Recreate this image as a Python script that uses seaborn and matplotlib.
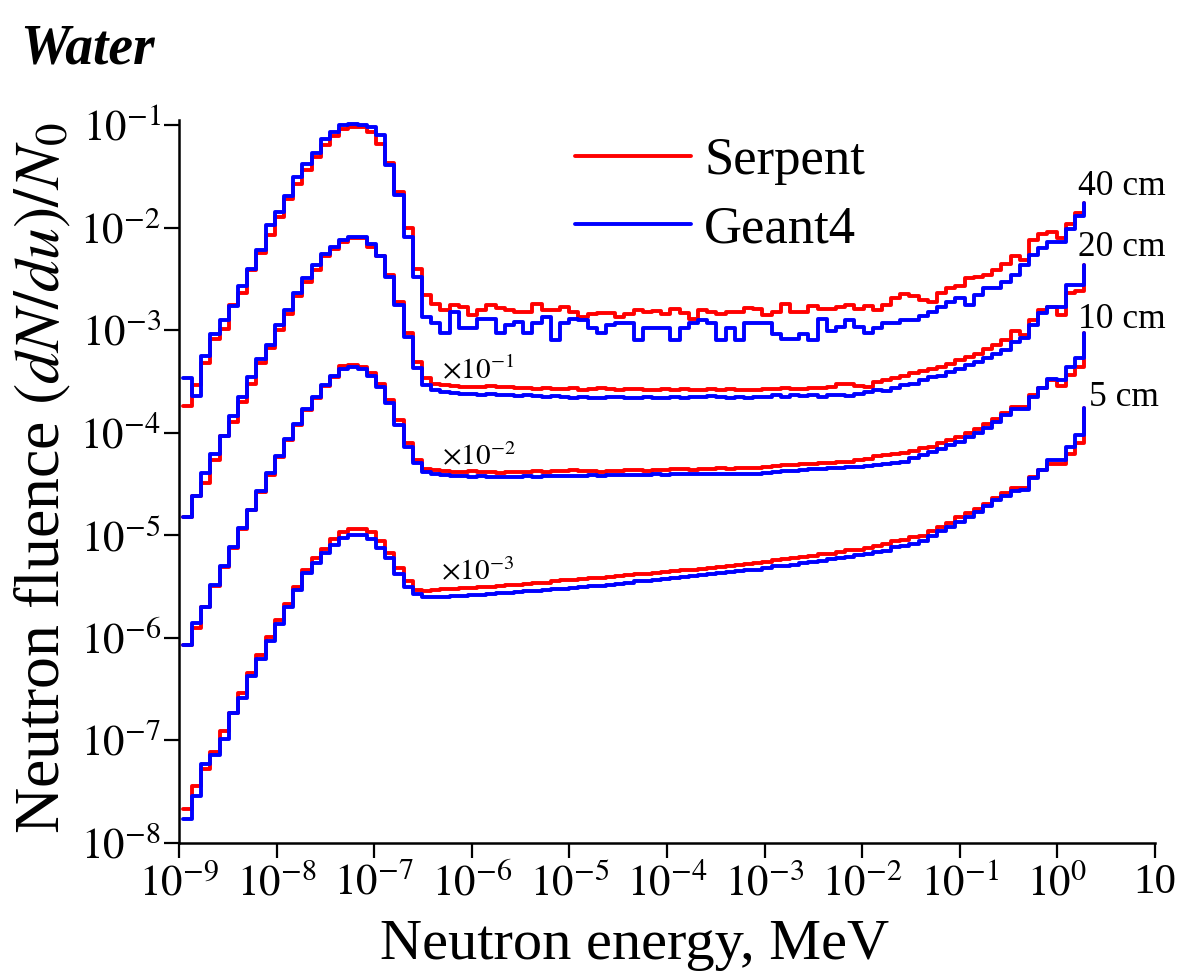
import numpy as np
import pandas as pd
import matplotlib
matplotlib.use("Agg")
import matplotlib.pyplot as plt
import seaborn as sns
from matplotlib.lines import Line2D
from matplotlib.ticker import FixedLocator, FixedFormatter, NullLocator

# ---------------- data (log10 of fluence per lethargy bin; last entry = end point) -------------
energy_edges = np.logspace(-8.96, 0.275, 99)  # MeV, 98 lethargy bins

serpent_40cm = [
    -3.74, -3.53, -3.32, -3.09, -2.99, -2.75, -2.64, -2.41, -2.25, -2.07, -1.90, -1.72, -1.57, -1.44,
    -1.31, -1.19, -1.11, -1.04, -1.02, -1.02, -1.07, -1.18, -1.37, -1.65, -2.00, -2.40, -2.66,
    -2.74, -2.80, -2.75, -2.77, -2.85, -2.80, -2.75, -2.78, -2.80, -2.82, -2.82, -2.74, -2.80, -2.80,
    -2.77, -2.82, -2.87, -2.84, -2.83, -2.83, -2.87, -2.84, -2.80, -2.82, -2.81, -2.84, -2.79, -2.83,
    -2.89, -2.80, -2.82, -2.84, -2.82, -2.82,
    -2.78, -2.79, -2.85, -2.82, -2.74, -2.82, -2.82, -2.76, -2.79, -2.79, -2.77, -2.75, -2.79, -2.76,
    -2.80, -2.75, -2.69, -2.65, -2.67, -2.71, -2.72, -2.64, -2.59, -2.57, -2.49, -2.48, -2.46, -2.41,
    -2.35, -2.28, -2.32, -2.12, -2.06, -2.04, -2.10, -1.96, -1.86,
    -1.76]
geant4_40cm = [
    -3.47, -3.64, -3.25, -3.04, -2.90, -2.76, -2.57, -2.40, -2.22, -1.97, -1.85, -1.69, -1.51, -1.38,
    -1.27, -1.14, -1.065, -1.003, -0.99, -1.00, -1.02, -1.10, -1.39, -1.68, -2.09, -2.48,
    -2.87, -2.93, -3.03, -2.82, -2.98, -2.98, -2.89, -2.89, -3.03, -2.95, -2.92, -3.03, -2.93, -2.87,
    -3.10, -2.93, -2.89, -2.90, -2.98, -3.03, -2.95, -2.93, -2.93, -3.10, -2.98, -2.98, -2.98, -3.10,
    -2.98, -2.93, -2.90, -2.93, -3.10, -2.98, -3.10, -2.93,
    -2.93, -2.93, -3.04, -3.09, -3.09, -3.04, -3.10, -2.89, -3.01, -2.97, -2.90, -2.97, -3.03, -2.98,
    -2.93, -2.93, -2.90, -2.90, -2.86, -2.82, -2.77, -2.72, -2.69, -2.75, -2.66, -2.59, -2.59, -2.53,
    -2.46, -2.36, -2.27, -2.20, -2.14, -2.14, -2.01, -1.89,
    -1.76]

serpent_20cm = [
    -4.82, -4.62, -4.49, -4.27, -4.03, -3.89, -3.70, -3.52, -3.32,
    -3.17, -3.00, -2.84, -2.67, -2.53, -2.41, -2.28, -2.21, -2.14, -2.10, -2.10, -2.19, -2.28, -2.46,
    -2.72, -3.03,
    -3.31, -3.47, -3.52, -3.53,
    -3.54, -3.55, -3.55, -3.55, -3.54, -3.55, -3.55, -3.56, -3.56, -3.57, -3.56, -3.57, -3.57, -3.56,
    -3.58, -3.57, -3.56, -3.57, -3.58, -3.57, -3.57, -3.58, -3.58, -3.57, -3.58, -3.57, -3.58, -3.58,
    -3.57, -3.58, -3.57, -3.58,
    -3.58, -3.58, -3.57, -3.57, -3.56, -3.57, -3.57, -3.56, -3.56, -3.55, -3.52, -3.52, -3.54, -3.55,
    -3.50, -3.49, -3.47, -3.45, -3.42, -3.40, -3.38, -3.36, -3.33, -3.29, -3.26, -3.23, -3.18, -3.14,
    -3.10, -3.01, -3.05,
    -2.90, -2.80, -2.77, -2.85, -2.64, -2.62,
    -2.36]
geant4_20cm = [
    -4.82, -4.62, -4.39, -4.21, -4.03, -3.84, -3.65, -3.46, -3.28,
    -3.14, -2.95, -2.80, -2.64, -2.49, -2.36, -2.26, -2.19, -2.12, -2.09, -2.09, -2.16, -2.28, -2.48,
    -2.75, -3.07,
    -3.37, -3.53, -3.58, -3.60,
    -3.61, -3.62, -3.62, -3.63, -3.62, -3.63, -3.63, -3.64, -3.63, -3.64, -3.65, -3.64, -3.65, -3.66,
    -3.65, -3.66, -3.66, -3.65, -3.65, -3.66, -3.66, -3.65, -3.66, -3.66, -3.65, -3.66, -3.65, -3.65,
    -3.64, -3.65, -3.66, -3.65,
    -3.66, -3.65, -3.65, -3.63, -3.65, -3.63, -3.64, -3.63, -3.65, -3.63, -3.63, -3.64, -3.62, -3.60,
    -3.58, -3.59, -3.56, -3.53, -3.52, -3.49, -3.46, -3.45, -3.41, -3.38, -3.34, -3.31, -3.27, -3.23,
    -3.19, -3.11, -3.08,
    -2.95, -2.83, -2.77, -2.77, -2.56, -2.56,
    -2.36]

serpent_10cm = [
    -6.07, -5.90, -5.70, -5.49, -5.31, -5.12, -4.94, -4.75, -4.58, -4.41, -4.24, -4.07, -3.92, -3.78,
    -3.66, -3.54, -3.46, -3.35, -3.34, -3.36, -3.42, -3.52, -3.68, -3.88, -4.10, -4.27, -4.35,
    -4.36, -4.37,
    -4.38, -4.38, -4.37, -4.38, -4.38, -4.39, -4.38, -4.38, -4.38, -4.37, -4.38, -4.37, -4.37, -4.36,
    -4.37, -4.37, -4.38, -4.37, -4.37, -4.36, -4.36, -4.37, -4.36, -4.36, -4.35, -4.35, -4.36, -4.35,
    -4.35, -4.34, -4.35, -4.34,
    -4.34, -4.34, -4.33, -4.32, -4.31, -4.31, -4.30, -4.30, -4.29, -4.29, -4.28, -4.28, -4.27, -4.26,
    -4.23, -4.22, -4.21, -4.20, -4.18, -4.15, -4.14, -4.10, -4.07, -4.04, -4.00, -3.96, -3.91, -3.87,
    -3.81, -3.75, -3.75, -3.63,
    -3.56, -3.49, -3.54, -3.44, -3.36,
    -3.03]
geant4_10cm = [
    -6.07, -5.85, -5.70, -5.48, -5.30, -5.11, -4.93, -4.75, -4.57, -4.39, -4.23, -4.06, -3.91, -3.77,
    -3.65, -3.53, -3.45, -3.38, -3.36, -3.38, -3.45, -3.55, -3.71, -3.92, -4.14, -4.29, -4.38,
    -4.40, -4.41,
    -4.42, -4.42, -4.43, -4.42, -4.43, -4.43, -4.43, -4.43, -4.42, -4.43, -4.42, -4.42, -4.42, -4.42,
    -4.42, -4.41, -4.42, -4.41, -4.41, -4.41, -4.41, -4.41, -4.40, -4.41, -4.40, -4.40, -4.40, -4.40,
    -4.40, -4.40, -4.40, -4.40,
    -4.40, -4.40, -4.39, -4.38, -4.37, -4.37, -4.36, -4.35, -4.35, -4.34, -4.34, -4.33, -4.33, -4.32,
    -4.31, -4.30, -4.29, -4.28,
    -4.25, -4.22, -4.19, -4.16, -4.12, -4.09, -4.04, -4.00, -3.95, -3.89, -3.83, -3.77, -3.77, -3.65,
    -3.56, -3.48, -3.49, -3.36, -3.27,
    -3.03]

serpent_5cm = [
    -7.67, -7.44, -7.28, -7.11, -6.91, -6.73, -6.54, -6.34, -6.17, -5.99, -5.83, -5.67,
    -5.50, -5.34, -5.22, -5.13, -5.04, -4.97, -4.94, -4.94, -4.97, -5.06, -5.17, -5.32, -5.45, -5.53,
    -5.54, -5.53,
    -5.52, -5.52, -5.51, -5.51, -5.50, -5.50, -5.49, -5.48, -5.48, -5.47, -5.46, -5.46, -5.45, -5.44,
    -5.44, -5.43, -5.42, -5.42, -5.41, -5.40, -5.39, -5.38, -5.38, -5.37, -5.36, -5.35, -5.34, -5.34,
    -5.33, -5.32, -5.31, -5.30, -5.29,
    -5.28, -5.27, -5.26, -5.24, -5.23, -5.22, -5.21, -5.20, -5.18, -5.18, -5.16, -5.14, -5.14, -5.12,
    -5.10, -5.08, -5.06, -5.05, -5.02, -5.01, -4.96, -4.92, -4.88, -4.82, -4.78, -4.74, -4.69, -4.64,
    -4.59, -4.54, -4.54, -4.43, -4.36, -4.30, -4.30, -4.21, -4.10,
    -3.76]
geant4_5cm = [
    -7.77, -7.54, -7.23, -7.14, -6.99, -6.73, -6.59, -6.37, -6.21, -6.03, -5.86, -5.70,
    -5.53, -5.37, -5.27, -5.17, -5.09, -5.03, -5.00, -5.00, -5.04, -5.12, -5.22, -5.38, -5.50, -5.57,
    -5.60, -5.60,
    -5.60, -5.59, -5.59, -5.58, -5.58, -5.57, -5.56, -5.56, -5.55, -5.54, -5.54, -5.53, -5.52, -5.52,
    -5.51, -5.50, -5.49, -5.49, -5.48, -5.47, -5.46, -5.45, -5.45, -5.44, -5.43, -5.42, -5.41, -5.40,
    -5.39, -5.38, -5.37, -5.36, -5.35,
    -5.34, -5.34, -5.32, -5.30, -5.30, -5.29, -5.27, -5.26, -5.25, -5.23, -5.22, -5.21, -5.19, -5.18,
    -5.16, -5.15, -5.11, -5.10, -5.08, -5.06, -5.01, -4.96, -4.92, -4.87, -4.82, -4.77, -4.71, -4.66,
    -4.62, -4.57, -4.56, -4.44, -4.36, -4.27, -4.27, -4.14, -4.02,
    -3.76]

codes = ["Serpent", "Geant4"]
depths = ["40 cm", "20 cm", "10 cm", "5 cm"]
scale_labels = [r"$\times10^{-1}$", r"$\times10^{-2}$", r"$\times10^{-3}$"]
x_tick_values = [1e-9, 1e-8, 1e-7, 1e-6, 1e-5, 1e-4, 1e-3, 1e-2, 1e-1, 1e0, 1e1]
x_tick_labels = [r"$10^{-9}$", r"$10^{-8}$", r"$10^{-7}$", r"$10^{-6}$", r"$10^{-5}$",
                 r"$10^{-4}$", r"$10^{-3}$", r"$10^{-2}$", r"$10^{-1}$", r"$10^{0}$", "10"]
y_tick_values = [1e-8, 1e-7, 1e-6, 1e-5, 1e-4, 1e-3, 1e-2, 1e-1]
y_tick_labels = [r"$10^{-8}$", r"$10^{-7}$", r"$10^{-6}$", r"$10^{-5}$",
                 r"$10^{-4}$", r"$10^{-3}$", r"$10^{-2}$", r"$10^{-1}$"]

series = {
    ("Serpent", "40 cm"): serpent_40cm, ("Geant4", "40 cm"): geant4_40cm,
    ("Serpent", "20 cm"): serpent_20cm, ("Geant4", "20 cm"): geant4_20cm,
    ("Serpent", "10 cm"): serpent_10cm, ("Geant4", "10 cm"): geant4_10cm,
    ("Serpent", "5 cm"): serpent_5cm, ("Geant4", "5 cm"): geant4_5cm,
}

rows = []
for (code, depth), vals in series.items():
    for e, v in zip(energy_edges, vals):
        rows.append({"energy": e, "fluence": 10.0 ** v, "code": code, "depth": depth})
df = pd.DataFrame(rows)

# ---------------- style ----------------
sns.set_theme(style="ticks")
plt.rcParams["font.family"] = ["Liberation Serif", "DejaVu Serif"]
plt.rcParams["mathtext.fontset"] = "stix"
for key in ["text.color", "axes.labelcolor", "xtick.color", "ytick.color", "axes.edgecolor"]:
    plt.rcParams[key] = "black"

W, H = 1177, 973
fig = plt.figure(figsize=(W / 100, H / 100), dpi=100)
ax = fig.add_axes([179 / W, 130 / H, (1155 - 179) / W, (853 - 130) / H])

palette = {"Serpent": "#ff0000", "Geant4": "#0000ff"}
sns.lineplot(data=df, x="energy", y="fluence", hue="code", hue_order=codes,
             units="depth", estimator=None, sort=False, palette=palette,
             drawstyle="steps-post", linewidth=2.8, legend=False, ax=ax)

ax.set_xscale("log")
ax.set_yscale("log")
ax.set_xlim(1e-9, 10)
ax.set_ylim(1e-8, 10 ** -0.95)
ax.xaxis.set_major_locator(FixedLocator(x_tick_values))
ax.xaxis.set_major_formatter(FixedFormatter(x_tick_labels))
ax.yaxis.set_major_locator(FixedLocator(y_tick_values))
ax.yaxis.set_major_formatter(FixedFormatter(y_tick_labels))
ax.xaxis.set_minor_locator(NullLocator())
ax.yaxis.set_minor_locator(NullLocator())
ax.tick_params(axis="both", direction="out", length=11, width=1.6, labelsize=31,
               color="black", labelcolor="black")
ax.tick_params(axis="x", pad=4)
ax.tick_params(axis="y", pad=2)
for s in ["top", "right"]:
    ax.spines[s].set_visible(False)
for s in ["left", "bottom"]:
    ax.spines[s].set_linewidth(1.8)
    ax.spines[s].set_color("black")

ax.set_xlabel("Neutron energy, MeV", fontsize=42, labelpad=0, color="black")
ax.xaxis.set_label_coords(0.467, -0.105)
ax.set_ylabel(r"Neutron fluence $(dN/du)/N_0$", fontsize=46, labelpad=4, color="black")
ax.yaxis.set_label_coords(-0.108, 0.505)

# title
fig.text(20 / W, 1 - 50 / H, "Water", fontsize=40, fontweight="bold", style="italic",
         ha="left", va="center", color="black")

# legend
handles = [Line2D([], [], color=palette[c], lw=2.8) for c in codes]
leg = ax.legend(handles, codes, loc="upper left", bbox_to_anchor=(575 / W, 1 - 137 / H),
                bbox_transform=fig.transFigure, frameon=False, fontsize=38,
                handlelength=2.2, handletextpad=0.25, labelspacing=0.38, borderpad=0,
                borderaxespad=0)
for t in leg.get_texts():
    t.set_color("black")

# depth labels
depth_pos = [(1.62, 10 ** -1.60), (1.62, 10 ** -2.19), (1.62, 10 ** -2.90), (2.1, 10 ** -3.66)]
for lab, (xx, yy) in zip(depths, depth_pos):
    ax.text(xx, yy, lab, fontsize=25.5, ha="left", va="center", color="black")

# scale factor labels
scale_pos = [(5.0e-7, 10 ** -3.39), (5.0e-7, 10 ** -4.24), (4.8e-7, 10 ** -5.36)]
for lab, (xx, yy) in zip(scale_labels, scale_pos):
    ax.text(xx, yy, lab, fontsize=21, ha="left", va="center", color="black")

fig.savefig("out.png", dpi=100)
